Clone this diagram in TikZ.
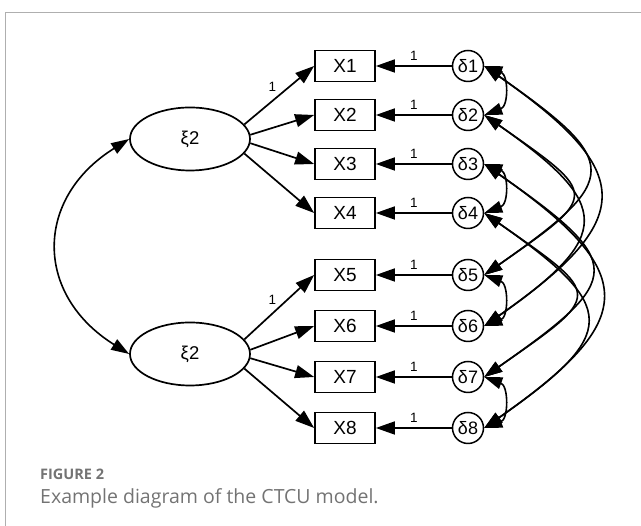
\documentclass[tikz,border=0pt]{standalone}
\usepackage{fontspec}
\setmainfont{Liberation Sans}
\newfontfamily\capfont{Open Sans}
\usetikzlibrary{arrows.meta,shapes.geometric}
\definecolor{capGray}{RGB}{115,115,115}
\definecolor{frameGray}{RGB}{175,175,175}

\begin{document}
\begin{tikzpicture}[x=1pt,y=1pt,
  latent/.style={ellipse,draw,line width=1.7pt,minimum width=120pt,minimum height=63pt,inner sep=0pt,font=\fontsize{18.5}{20}\selectfont},
  obs/.style={rectangle,draw,line width=1.7pt,minimum width=60pt,minimum height=31pt,inner sep=0pt,font=\fontsize{19}{21}\selectfont},
  err/.style={circle,draw,line width=1.5pt,minimum size=31pt,inner sep=0pt,font=\fontsize{18}{20}\selectfont},
  load/.style={line width=1.7pt,-{Triangle[length=19pt,width=13pt]}},
  cov/.style={line width=1.6pt,{Triangle[length=18pt,width=12pt]}-{Triangle[length=18pt,width=12pt]}},
  one/.style={font=\fontsize{13.5}{15}\selectfont}]
\useasboundingbox (0,0) rectangle (641,526);
% Frame
\draw[frameGray,line width=1pt] (5,-20) -- (5,513) -- (660,513);
% Latent factors
\node[latent] (xi1) at (190,387) {ξ2};
\node[latent] (xi2) at (190,172) {ξ2};
% Observed variables
\node[obs] (X1) at (345,460) {X1};
\node[obs] (X2) at (345,411) {X2};
\node[obs] (X3) at (345,362) {X3};
\node[obs] (X4) at (345,313) {X4};
\node[obs] (X5) at (345,251) {X5};
\node[obs] (X6) at (345,200) {X6};
\node[obs] (X7) at (345,149) {X7};
\node[obs] (X8) at (345,98) {X8};
% Error terms
\node[err] (d1) at (468,460) {δ1};
\node[err] (d2) at (468,411) {δ2};
\node[err] (d3) at (468,362) {δ3};
\node[err] (d4) at (468,313) {δ4};
\node[err] (d5) at (468,251) {δ5};
\node[err] (d6) at (468,200) {δ6};
\node[err] (d7) at (468,149) {δ7};
\node[err] (d8) at (468,98) {δ8};
% Loadings
\draw[load] (xi1.15) -- node[pos=0.4,above=5pt,one] {1} (X1.west);
\draw[load] (xi1.4) -- (X2.west);
\draw[load] (xi1.-4) -- (X3.west);
\draw[load] (xi1.-15) -- (X4.west);
\draw[load] (xi2.15) -- node[pos=0.4,above=5pt,one] {1} (X5.west);
\draw[load] (xi2.4) -- (X6.west);
\draw[load] (xi2.-4) -- (X7.west);
\draw[load] (xi2.-15) -- (X8.west);
% Error paths
\draw[load] (d1) -- node[above=1pt,one] {1} (X1);
\draw[load] (d2) -- node[above=1pt,one] {1} (X2);
\draw[load] (d3) -- node[above=1pt,one] {1} (X3);
\draw[load] (d4) -- node[above=1pt,one] {1} (X4);
\draw[load] (d5) -- node[above=1pt,one] {1} (X5);
\draw[load] (d6) -- node[above=1pt,one] {1} (X6);
\draw[load] (d7) -- node[above=1pt,one] {1} (X7);
\draw[load] (d8) -- node[above=1pt,one] {1} (X8);
% Factor covariance
\draw[cov] (xi1.west) to[out=212,in=148,distance=112pt] (xi2.west);
% Error covariances
\draw[cov] (d1.east) to[out=-20,in=20,distance=26pt] (d2.east);
\draw[cov] (d3.east) to[out=-20,in=20,distance=26pt] (d4.east);
\draw[cov] (d5.east) to[out=-20,in=20,distance=26pt] (d6.east);
\draw[cov] (d7.east) to[out=-20,in=20,distance=26pt] (d8.east);
\draw[cov] (d1.east) to[out=-35,in=35,distance=168pt] (d5.east);
\draw[cov] (d1.east) to[out=-35,in=35,distance=186pt] (d6.east);
\draw[cov] (d2.east) to[out=-35,in=35,distance=141pt] (d5.east);
\draw[cov] (d2.east) to[out=-35,in=35,distance=157pt] (d6.east);
\draw[cov] (d3.east) to[out=-35,in=35,distance=173pt] (d7.east);
\draw[cov] (d3.east) to[out=-35,in=35,distance=190pt] (d8.east);
\draw[cov] (d4.east) to[out=-35,in=35,distance=146pt] (d7.east);
\draw[cov] (d4.east) to[out=-35,in=35,distance=165pt] (d8.east);
% Caption
\node[anchor=base west,inner sep=0pt,text=capGray,font=\capfont\fontsize{14.5}{16}\selectfont\bfseries] (figlab) at (40,46) {FIGURE 2};
\node[anchor=base west,inner sep=0pt,text=capGray,font=\capfont\fontsize{19.5}{21}\selectfont] (caption) at (40,22) {Example diagram of the CTCU model.};
\end{tikzpicture}
\end{document}
